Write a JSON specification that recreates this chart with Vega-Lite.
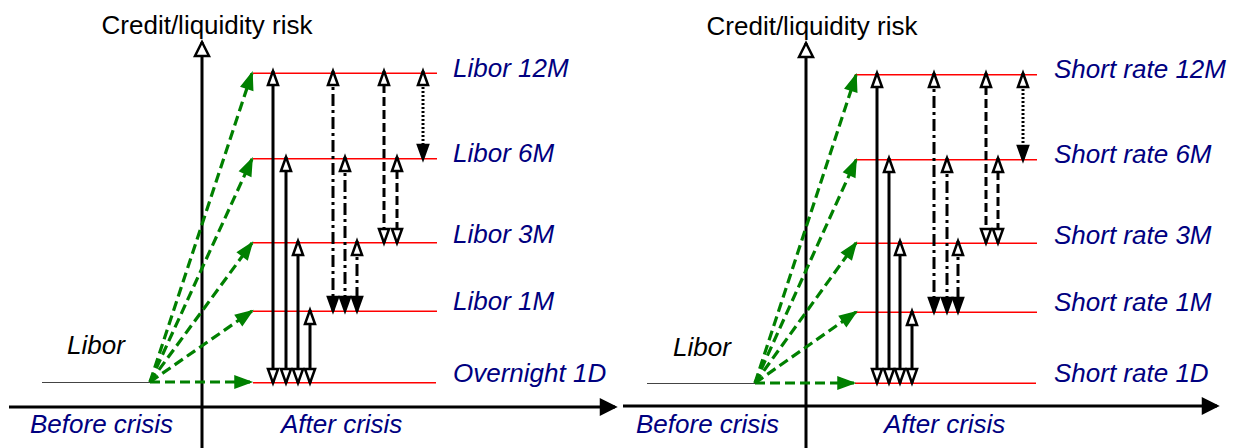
{
  "$schema": "https://vega.github.io/schema/vega-lite/v6.json",
  "width": 1236,
  "height": 448,
  "padding": 0,
  "autosize": "none",
  "background": "white",
  "config": {"view": {"stroke": null}},
  "datasets": {
    "levels": [
      {"panel": "Libor", "level": "12M", "x": 253, "x2": 437, "y": 73.2},
      {"panel": "Libor", "level": "6M", "x": 253, "x2": 437, "y": 158.7},
      {"panel": "Libor", "level": "3M", "x": 253, "x2": 437, "y": 242.7},
      {"panel": "Libor", "level": "1M", "x": 253, "x2": 437, "y": 311.2},
      {"panel": "Libor", "level": "1D", "x": 253, "x2": 436, "y": 382.7},
      {"panel": "Short rate", "level": "12M", "x": 855, "x2": 1037, "y": 74.7},
      {"panel": "Short rate", "level": "6M", "x": 855, "x2": 1037, "y": 159.7},
      {"panel": "Short rate", "level": "3M", "x": 855, "x2": 1037, "y": 243.2},
      {"panel": "Short rate", "level": "1M", "x": 855, "x2": 1037, "y": 312.2},
      {"panel": "Short rate", "level": "1D", "x": 855, "x2": 1036, "y": 383.2}
    ],
    "before": [
      {"panel": "Libor", "x": 42, "x2": 150, "y": 382.5},
      {"panel": "Short rate", "x": 647, "x2": 755, "y": 383.5}
    ],
    "axes": [
      {"panel": "Libor", "axis": "risk", "x": 202, "y": 448, "x2": 202, "y2": 42},
      {"panel": "Libor", "axis": "time", "x": 9, "y": 407, "x2": 615, "y2": 407},
      {"panel": "Short rate", "axis": "risk", "x": 806, "y": 448, "x2": 806, "y2": 43},
      {"panel": "Short rate", "axis": "time", "x": 623, "y": 406, "x2": 1217, "y2": 406}
    ],
    "green": [
      {"panel": "Libor", "level": "12M", "x": 150, "y": 382, "x2": 252, "y2": 73},
      {"panel": "Libor", "level": "6M", "x": 150, "y": 382, "x2": 252, "y2": 159},
      {"panel": "Libor", "level": "3M", "x": 150, "y": 382, "x2": 252, "y2": 243},
      {"panel": "Libor", "level": "1M", "x": 150, "y": 382, "x2": 252, "y2": 311},
      {"panel": "Libor", "level": "1D", "x": 150, "y": 382, "x2": 251, "y2": 382},
      {"panel": "Short rate", "level": "12M", "x": 755, "y": 383, "x2": 856, "y2": 75},
      {"panel": "Short rate", "level": "6M", "x": 755, "y": 383, "x2": 856, "y2": 160},
      {"panel": "Short rate", "level": "3M", "x": 755, "y": 383, "x2": 856, "y2": 243},
      {"panel": "Short rate", "level": "1M", "x": 755, "y": 383, "x2": 856, "y2": 312},
      {"panel": "Short rate", "level": "1D", "x": 755, "y": 383, "x2": 854, "y2": 383}
    ],
    "spreads": [
      {"panel": "Libor", "style": "solid", "x": 273, "y": 71, "y2": 383},
      {"panel": "Libor", "style": "solid", "x": 286, "y": 157, "y2": 383},
      {"panel": "Libor", "style": "solid", "x": 298, "y": 241, "y2": 383},
      {"panel": "Libor", "style": "solid", "x": 310, "y": 310, "y2": 383},
      {"panel": "Libor", "style": "dashdot", "x": 333, "y": 71, "y2": 311},
      {"panel": "Libor", "style": "dashdot", "x": 345, "y": 157, "y2": 311},
      {"panel": "Libor", "style": "dashdot", "x": 357, "y": 241, "y2": 311},
      {"panel": "Libor", "style": "dashed", "x": 384, "y": 71, "y2": 243},
      {"panel": "Libor", "style": "dashed", "x": 397, "y": 157, "y2": 243},
      {"panel": "Libor", "style": "dotted", "x": 423, "y": 71, "y2": 159},
      {"panel": "Short rate", "style": "solid", "x": 877, "y": 73, "y2": 383},
      {"panel": "Short rate", "style": "solid", "x": 889, "y": 158, "y2": 383},
      {"panel": "Short rate", "style": "solid", "x": 900, "y": 241, "y2": 383},
      {"panel": "Short rate", "style": "solid", "x": 912, "y": 311, "y2": 383},
      {"panel": "Short rate", "style": "dashdot", "x": 934, "y": 73, "y2": 312},
      {"panel": "Short rate", "style": "dashdot", "x": 947, "y": 158, "y2": 312},
      {"panel": "Short rate", "style": "dashdot", "x": 958, "y": 241, "y2": 312},
      {"panel": "Short rate", "style": "dashed", "x": 986, "y": 73, "y2": 243},
      {"panel": "Short rate", "style": "dashed", "x": 998, "y": 158, "y2": 243},
      {"panel": "Short rate", "style": "dotted", "x": 1023, "y": 73, "y2": 160}
    ],
    "titles": [
      {"panel": "Libor", "text": "Credit/liquidity risk", "x": 207, "y": 34},
      {"panel": "Short rate", "text": "Credit/liquidity risk", "x": 812, "y": 35}
    ],
    "navy": [
      {"panel": "Libor", "text": "Libor 12M", "x": 453, "y": 77},
      {"panel": "Libor", "text": "Libor 6M", "x": 453, "y": 162},
      {"panel": "Libor", "text": "Libor 3M", "x": 453, "y": 243},
      {"panel": "Libor", "text": "Libor 1M", "x": 453, "y": 310},
      {"panel": "Libor", "text": "Overnight 1D", "x": 453, "y": 382},
      {"panel": "Libor", "text": "Before crisis", "x": 30, "y": 433},
      {"panel": "Libor", "text": "After crisis", "x": 281, "y": 433},
      {"panel": "Short rate", "text": "Short rate 12M", "x": 1054, "y": 78},
      {"panel": "Short rate", "text": "Short rate 6M", "x": 1054, "y": 163},
      {"panel": "Short rate", "text": "Short rate 3M", "x": 1054, "y": 244},
      {"panel": "Short rate", "text": "Short rate 1M", "x": 1054, "y": 311},
      {"panel": "Short rate", "text": "Short rate 1D", "x": 1054, "y": 382},
      {"panel": "Short rate", "text": "Before crisis", "x": 636, "y": 433},
      {"panel": "Short rate", "text": "After crisis", "x": 884, "y": 433}
    ],
    "libor": [
      {"panel": "Libor", "text": "Libor", "x": 67, "y": 354},
      {"panel": "Short rate", "text": "Libor", "x": 673, "y": 356}
    ]
  },
  "encoding": {
    "x": {"field": "x", "type": "quantitative", "scale": {"domain": [0, 1236], "nice": false, "zero": false}, "axis": null},
    "y": {"field": "y", "type": "quantitative", "scale": {"domain": [0, 448], "nice": false, "zero": false, "reverse": true}, "axis": null}
  },
  "layer": [
    {
      "data": {"name": "levels"},
      "mark": {"type": "rule", "color": "#ff0000", "strokeWidth": 1.5},
      "encoding": {"x2": {"field": "x2"}}
    },
    {
      "data": {"name": "before"},
      "mark": {"type": "rule", "color": "#444444", "strokeWidth": 1.2},
      "encoding": {"x2": {"field": "x2"}}
    },
    {
      "data": {"name": "axes"},
      "mark": {"type": "rule", "color": "black", "strokeWidth": 3},
      "encoding": {"x2": {"field": "x2"}, "y2": {"field": "y2"}}
    },
    {
      "data": {"name": "axes"},
      "transform": [{"calculate": "atan2(datum.x2 - datum.x, datum.y - datum.y2) * 180 / PI", "as": "ang"}],
      "mark": {"type": "point", "shape": "M0,0L1,2L-1,2Z", "size": 196, "filled": true, "stroke": "black", "strokeWidth": 2.5, "strokeJoin": "miter", "opacity": 1},
      "encoding": {
        "x": {"field": "x2", "type": "quantitative"},
        "y": {"field": "y2", "type": "quantitative"},
        "angle": {"field": "ang", "type": "quantitative", "scale": null},
        "fill": {"condition": {"test": "datum.axis == 'risk'", "value": "white"}, "value": "black"}
      }
    },
    {
      "data": {"name": "green"},
      "mark": {"type": "rule", "color": "#008000", "strokeWidth": 3.2, "strokeDash": [10, 5]},
      "encoding": {"x2": {"field": "x2"}, "y2": {"field": "y2"}}
    },
    {
      "data": {"name": "green"},
      "transform": [{"calculate": "atan2(datum.x2 - datum.x, datum.y - datum.y2) * 180 / PI", "as": "ang"}],
      "mark": {"type": "point", "shape": "M0,0L0.75,2L-0.75,2Z", "size": 256, "filled": true, "fill": "#008000", "stroke": "#008000", "strokeWidth": 1.5, "opacity": 1},
      "encoding": {
        "x": {"field": "x2", "type": "quantitative"},
        "y": {"field": "y2", "type": "quantitative"},
        "angle": {"field": "ang", "type": "quantitative", "scale": null}
      }
    },
    {
      "data": {"name": "spreads"},
      "mark": {"type": "rule", "color": "black", "strokeWidth": 3},
      "encoding": {
        "y2": {"field": "y2"},
        "strokeDash": {"field": "style", "type": "nominal", "scale": {"domain": ["solid", "dashdot", "dashed", "dotted"], "range": [[1, 0], [12, 4, 3, 4], [9, 4], [2, 2]]}, "legend": null}
      }
    },
    {
      "data": {"name": "spreads"},
      "mark": {"type": "point", "shape": "M0,0L0.72,2L-0.72,2Z", "size": 196, "filled": true, "fill": "white", "stroke": "black", "strokeWidth": 2.5, "opacity": 1, "angle": 0}
    },
    {
      "data": {"name": "spreads"},
      "mark": {"type": "point", "shape": "M0,0L0.72,2L-0.72,2Z", "size": 196, "filled": true, "stroke": "black", "strokeWidth": 2.5, "opacity": 1, "angle": 180},
      "encoding": {
        "y": {"field": "y2", "type": "quantitative"},
        "fill": {"condition": {"test": "datum.style == 'solid' || datum.style == 'dashed'", "value": "white"}, "value": "black"}
      }
    },
    {
      "data": {"name": "titles"},
      "mark": {"type": "text", "font": "Liberation Sans", "fontSize": 26, "color": "black", "align": "center", "baseline": "alphabetic"},
      "encoding": {"text": {"field": "text"}}
    },
    {
      "data": {"name": "navy"},
      "mark": {"type": "text", "font": "Liberation Sans", "fontSize": 26, "fontStyle": "italic", "color": "#000080", "align": "left", "baseline": "alphabetic"},
      "encoding": {"text": {"field": "text"}}
    },
    {
      "data": {"name": "libor"},
      "mark": {"type": "text", "font": "Liberation Sans", "fontSize": 26, "fontStyle": "italic", "color": "black", "align": "left", "baseline": "alphabetic"},
      "encoding": {"text": {"field": "text"}}
    }
  ]
}
